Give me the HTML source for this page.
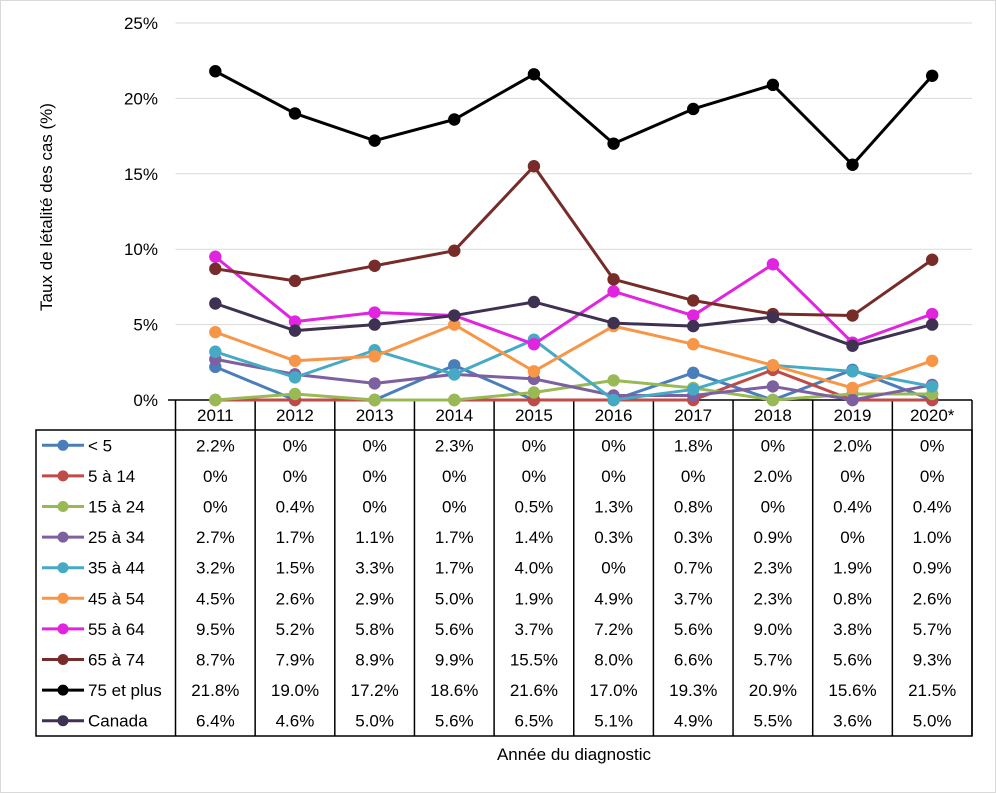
<!DOCTYPE html>
<html><head><meta charset="utf-8"><style>
body{margin:0;background:#fff;}
svg{display:block;font-family:"Liberation Sans",sans-serif;}
</style></head><body>
<svg width="996" height="793" viewBox="0 0 996 793">
<rect x="0.5" y="0.5" width="995" height="792" fill="#fff" stroke="#d9d9d9"/>
<g id="grid"></g><g id="table"></g><g id="series"></g>
<text x="52" y="207" transform="rotate(-90 52 207)" text-anchor="middle" font-size="17" fill="#000">Taux de létalité des cas (%)</text>
<text x="574" y="760" text-anchor="middle" font-size="17" fill="#000">Année du diagnostic</text>
</svg>
<script>
const years=["2011","2012","2013","2014","2015","2016","2017","2018","2019","2020*"];
const names=["< 5","5 à 14","15 à 24","25 à 34","35 à 44","45 à 54","55 à 64","65 à 74","75 et plus","Canada"];
const colors=["#4a7ebb","#be4b48","#98b954","#7d60a0","#46aac5","#f79646","#e024e0","#772c2a","#000000","#3f3151"];
const sLt5=[2.2,0,0,2.3,0,0,1.8,0,2.0,0];
const s5to14=[0,0,0,0,0,0,0,2.0,0,0];
const s15to24=[0,0.4,0,0,0.5,1.3,0.8,0,0.4,0.4];
const s25to34=[2.7,1.7,1.1,1.7,1.4,0.3,0.3,0.9,0,1.0];
const s35to44=[3.2,1.5,3.3,1.7,4.0,0,0.7,2.3,1.9,0.9];
const s45to54=[4.5,2.6,2.9,5.0,1.9,4.9,3.7,2.3,0.8,2.6];
const s55to64=[9.5,5.2,5.8,5.6,3.7,7.2,5.6,9.0,3.8,5.7];
const s65to74=[8.7,7.9,8.9,9.9,15.5,8.0,6.6,5.7,5.6,9.3];
const s75plus=[21.8,19.0,17.2,18.6,21.6,17.0,19.3,20.9,15.6,21.5];
const sCanada=[6.4,4.6,5.0,5.6,6.5,5.1,4.9,5.5,3.6,5.0];
const series=[sLt5,s5to14,s15to24,s25to34,s35to44,s45to54,s55to64,s65to74,s75plus,sCanada];
const yTicks=[0,5,10,15,20,25];
const NS="http://www.w3.org/2000/svg";
const X0=175.5,CW=79.65,Y0=400,YS=(400-23)/25;
const xc=i=>X0+CW*(i+0.5);
const y=v=>Y0-v*YS;
function mk(tag,attrs,parent,txt){const e=document.createElementNS(NS,tag);for(const k in attrs)e.setAttribute(k,attrs[k]);if(txt!==undefined)e.textContent=txt;parent.appendChild(e);return e;}
const grid=document.getElementById('grid'),tab=document.getElementById('table'),ser=document.getElementById('series');
yTicks.forEach(t=>{
  const l=mk('line',{x1:t===0?168:X0,x2:972,y1:y(t),y2:y(t),stroke:t===0?'#000':'#d9d9d9','stroke-width':t===0?1.5:1},grid);
  
  
  const tx=mk('text',{x:158,y:y(t)+6,'text-anchor':'end','font-size':17},grid,t+'%');
  
  
});
const RT=430,RH=30.6,RB=RT+RH*10;
mk('rect',{x:36,y:RT,width:936,height:RH*10,fill:'none',stroke:'#000','stroke-width':1.5},tab);
mk('line',{x1:X0,x2:X0,y1:Y0,y2:RB,stroke:'#000','stroke-width':1.5},tab);
for(let i=1;i<=10;i++){mk('line',{x1:X0+CW*i,x2:X0+CW*i,y1:Y0,y2:RB,stroke:'#000','stroke-width':1.5},tab);}
years.forEach((yr,i)=>{
  const t=mk('text',{x:xc(i),y:421,'text-anchor':'middle','font-size':17},tab,yr);
  
  
});
names.forEach((n,r)=>{
  const cy=RT+RH*(r+0.5);
  const g=mk('g',{},tab);
  
  
  mk('line',{x1:42,x2:84,y1:cy,y2:cy,stroke:colors[r],'stroke-width':3},g);
  mk('circle',{cx:63,cy:cy,r:5.5,fill:colors[r]},g);
  mk('text',{x:88,y:cy+6,'font-size':17},g,n);
  series[r].forEach((v,i)=>{
    const t=mk('text',{x:xc(i),y:cy+6,'text-anchor':'middle','font-size':17},tab,(v===0?'0':v.toFixed(1))+'%');
    
    
  });
});
series.forEach((s,r)=>{
  const g=mk('g',{},ser);
  
  
  mk('polyline',{points:s.map((v,i)=>xc(i)+','+y(v)).join(' '),fill:'none',stroke:colors[r],'stroke-width':3,'stroke-linejoin':'round'},g);
  s.forEach((v,i)=>{
    const c=mk('circle',{cx:xc(i),cy:y(v),r:6.2,fill:colors[r]},g);
    
    
  });
});
</script>
</body></html>
